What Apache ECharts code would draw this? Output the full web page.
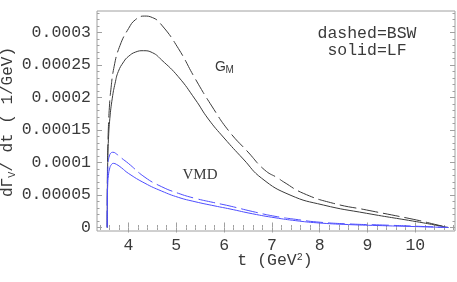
<!DOCTYPE html>
<html>
<head>
<meta charset="utf-8">
<script src="https://cdn.jsdelivr.net/npm/echarts@6/dist/echarts.min.js"></script>
<style>html,body{margin:0;padding:0;background:#fff;}#c{width:457px;height:282px;}</style>
</head>
<body>
<div id="c"></div>
<script>
// ---- data (t in GeV^2, dGamma/dt in 1/GeV) ----
const tLF_GM = [3.555, 3.558, 3.565, 3.58, 3.61, 3.661, 3.72, 3.787, 3.9, 3.996, 4.15, 4.31, 4.5, 4.695, 5.042, 5.391, 5.67, 6.0, 6.4, 6.787, 7.379, 8.075, 8.983, 10.03, 10.4, 10.69];
const vLF_GM = [0, 0.6e-4, 1.0e-4, 1.35e-4, 1.68e-4, 1.99e-4, 2.22e-4, 2.40e-4, 2.55e-4, 2.63e-4, 2.70e-4, 2.72e-4, 2.69e-4, 2.576e-4, 2.32e-4, 1.976e-4, 1.669e-4, 1.377e-4, 1.054e-4, 0.757e-4, 0.50e-4, 0.346e-4, 0.218e-4, 0.089e-4, 0.04e-4, 0];

const tBSW_GM = [3.555, 3.558, 3.565, 3.58, 3.60, 3.625, 3.70, 3.822, 4.0, 4.15, 4.33, 4.5, 4.695, 5.042, 5.391, 5.741, 6.1, 6.5, 6.85, 7.134, 7.24, 7.657, 8.285, 8.983, 10.03, 10.4, 10.69];
const vBSW_GM = [0, 0.7e-4, 1.15e-4, 1.55e-4, 1.85e-4, 2.08e-4, 2.48e-4, 2.80e-4, 3.06e-4, 3.20e-4, 3.253e-4, 3.23e-4, 3.114e-4, 2.756e-4, 2.295e-4, 1.87e-4, 1.484e-4, 1.161e-4, 0.884e-4, 0.757e-4, 0.704e-4, 0.526e-4, 0.372e-4, 0.269e-4, 0.115e-4, 0.05e-4, 0];

const tBSW_VMD = [3.555, 3.558, 3.565, 3.58, 3.60, 3.63, 3.676, 3.75, 3.85, 3.996, 4.345, 4.695, 5.042, 5.391, 5.774, 6.123, 6.6, 7.065, 7.5, 7.94, 8.6, 9.32, 10.0, 10.69];
const vBSW_VMD = [0, 5.5e-5, 8.5e-5, 10.3e-5, 11.0e-5, 11.45e-5, 11.57e-5, 11.3e-5, 10.7e-5, 9.87e-5, 7.72e-5, 6.27e-5, 5.26e-5, 4.49e-5, 3.85e-5, 3.3e-5, 2.45e-5, 1.72e-5, 1.25e-5, 0.85e-5, 0.55e-5, 0.38e-5, 0.2e-5, 0];

const tLF_VMD = [3.555, 3.558, 3.565, 3.58, 3.61, 3.645, 3.682, 3.75, 3.85, 3.996, 4.345, 4.695, 5.042, 5.391, 5.81, 6.123, 6.6, 7.065, 7.5, 7.94, 8.6, 9.32, 10.0, 10.69];
const vLF_VMD = [0, 4.0e-5, 6.5e-5, 8.0e-5, 9.2e-5, 9.7e-5, 9.87e-5, 9.7e-5, 9.2e-5, 8.34e-5, 6.8e-5, 5.6e-5, 4.64e-5, 3.97e-5, 3.31e-5, 2.85e-5, 2.1e-5, 1.5e-5, 1.05e-5, 0.72e-5, 0.45e-5, 0.28e-5, 0.14e-5, 0];

const xTickValues = [4, 5, 6, 7, 8, 9, 10];
const xTickLabels = ['4', '5', '6', '7', '8', '9', '10'];
const yTickValues = [0, 0.00005, 0.0001, 0.00015, 0.0002, 0.00025, 0.0003];
const yTickLabels = ['0', '0.00005', '0.0001', '0.00015', '0.0002', '0.00025', '0.0003'];

// ---- axis ranges / minor ticks ----
const xMin = 3.341, xMax = 10.831;
const yMin = -5.4e-6, yMax = 3.331e-4;
const xMinor = [];
for (let k = 17; k <= 54; k++) { const v = k / 5; if (k % 5 !== 0 && v > xMin && v < xMax) xMinor.push(+v.toFixed(2)); }
const yMinor = [];
for (let k = 0; k <= 33; k++) { if (k % 5 !== 0) yMinor.push(k * 1e-5); }

const pairs = (ts, vs) => ts.map((t, i) => [t, vs[i]]);
const lookup = (vals, labs) => (v) => { let bi = 0, bd = Infinity; vals.forEach((x, i) => { const d = Math.abs(x - v); if (d < bd) { bd = d; bi = i; } }); return labs[bi]; };

const frameColor = '#a0a0a0';
const mono = 'Liberation Mono';
const textColor = '#3a3a3a';
const labelStyle = { color: textColor, fontFamily: mono, fontSize: 16.5 };

function xAx(pos, major) {
  return {
    type: 'value', min: xMin, max: xMax, position: pos,
    axisLine: { show: false }, splitLine: { show: false },
    axisTick: { show: true, inside: true, length: major ? 5 : 2.5, customValues: major ? xTickValues : xMinor, lineStyle: { color: frameColor, width: 1 } },
    axisLabel: (major && pos === 'bottom') ? Object.assign({ show: true, customValues: xTickValues, formatter: lookup(xTickValues, xTickLabels), margin: 6 }, labelStyle) : { show: false }
  };
}
function yAx(pos, major) {
  return {
    type: 'value', min: yMin, max: yMax, position: pos,
    axisLine: { show: false }, splitLine: { show: false },
    axisTick: { show: true, inside: true, length: major ? 5 : 2.5, customValues: major ? yTickValues : yMinor, lineStyle: { color: frameColor, width: 1 } },
    axisLabel: (major && pos === 'left') ? Object.assign({ show: true, customValues: yTickValues, formatter: lookup(yTickValues, yTickLabels), margin: 6 }, labelStyle) : { show: false }
  };
}

const chart = echarts.init(document.getElementById('c'), null, { renderer: 'canvas' });
const blue = '#4d4dff', dark = '#3a3a3a';
const lineBase = { type: 'line', xAxisIndex: 0, yAxisIndex: 0, showSymbol: false, symbol: 'none', smooth: 0.5, animation: false, silent: true };

chart.setOption({
  animation: false,
  grid: { left: 97, right: 2, top: 11, bottom: 51, show: true, borderColor: frameColor, borderWidth: 1, backgroundColor: 'transparent' },
  xAxis: [xAx('bottom', true), xAx('bottom', false), xAx('top', true), xAx('top', false)],
  yAxis: [yAx('left', true), yAx('left', false), yAx('right', true), yAx('right', false)],
  series: [
    Object.assign({ name: 'BSW G_M', data: pairs(tBSW_GM, vBSW_GM), lineStyle: { color: dark, width: 1, type: [17, 5] } }, lineBase),
    Object.assign({ name: 'LF G_M', data: pairs(tLF_GM, vLF_GM), lineStyle: { color: dark, width: 1, type: 'solid' } }, lineBase),
    Object.assign({ name: 'BSW VMD', data: pairs(tBSW_VMD, vBSW_VMD), lineStyle: { color: blue, width: 1, type: [17, 5] } }, lineBase),
    Object.assign({ name: 'LF VMD', data: pairs(tLF_VMD, vLF_VMD), lineStyle: { color: blue, width: 1, type: 'solid' } }, lineBase)
  ],
  graphic: [
    { type: 'text', x: 367, y: 34, style: { text: 'dashed=BSW', fill: textColor, font: '16.5px "Liberation Mono"', align: 'center', verticalAlign: 'middle' } },
    { type: 'text', x: 367, y: 51, style: { text: 'solid=LF', fill: textColor, font: '16.5px "Liberation Mono"', align: 'center', verticalAlign: 'middle' } },
    { type: 'text', x: 215, y: 67, style: { text: 'G', fill: textColor, font: '14px "Liberation Sans"', align: 'left', verticalAlign: 'middle' } },
    { type: 'text', x: 225.5, y: 70, style: { text: 'M', fill: textColor, font: '10px "Liberation Sans"', align: 'left', verticalAlign: 'middle' } },
    { type: 'text', x: 200, y: 175, style: { text: 'VMD', fill: textColor, font: '15px "Liberation Serif"', align: 'center', verticalAlign: 'middle' } },
    { type: 'text', x: 275, y: 261, style: { text: 't (GeV{sup|2})', fill: textColor, font: '16.5px "Liberation Mono"', align: 'center', verticalAlign: 'middle',
        rich: { sup: { fontSize: 10, fontFamily: mono, verticalAlign: 'top', lineHeight: 18, fill: textColor } } } },
    { type: 'text', x: 8, y: 122, rotation: Math.PI / 2, style: { text: 'dΓ{sub|V}/ dt ( 1/GeV)', fill: textColor, font: '16px "Liberation Mono"', align: 'center', verticalAlign: 'middle',
        rich: { sub: { fontSize: 10, fontFamily: mono, verticalAlign: 'bottom', lineHeight: 18, fill: textColor } } } }
  ]
});
</script>
</body>
</html>
